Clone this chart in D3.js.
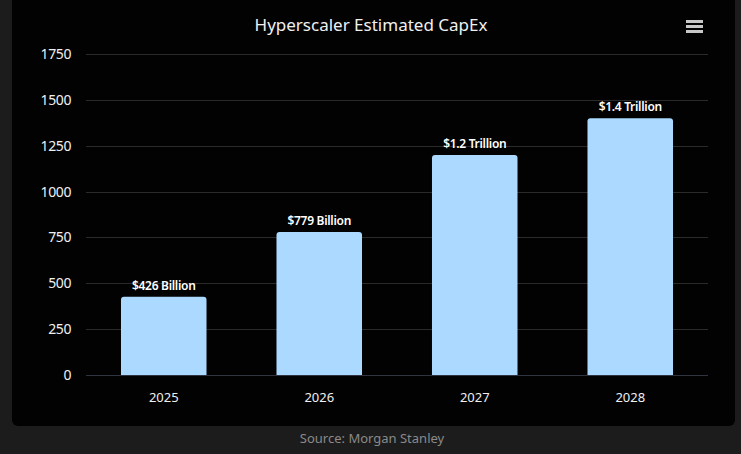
<!DOCTYPE html>
<html>
<head>
<meta charset="utf-8">
<script src="https://cdn.jsdelivr.net/npm/d3@7"></script>
<style>
	html, body { margin: 0; padding: 0; background: #1c1c1c; }
	#outer { width: 741px; height: 454px; }
</style>
</head>
<body>
<div id="outer"></div>
<script>
////////// Data //////////
const years = ['2025', '2026', '2027', '2028'];
const capexValues = [426, 779, 1200, 1400];
const barLabels = ['$426 Billion', '$779 Billion', '$1.2 Trillion', '$1.4 Trillion'];
const yTicks = [0, 250, 500, 750, 1000, 1250, 1500, 1750];
const chartTitle = 'Hyperscaler Estimated CapEx';
const sourceText = 'Source: Morgan Stanley';

function drawChart () {
	const width = 741, height = 454;
	const fontFamily = "'Noto Sans', 'Open Sans', sans-serif";
	const margin = {top: 54, left: 86, right: 33, bottom: 79};

	const svg = d3.select('#outer').append('svg')
		.attr('width', width)
		.attr('height', height)
		.style('display', 'block');

	// panel
	svg.append('rect')
		.attr('x', 12)
		.attr('y', -8)
		.attr('width', 723)
		.attr('height', 434)
		.attr('rx', 6)
		.attr('fill', '#020202');

	const x = d3.scaleBand()
		.domain(years)
		.range([margin.left, width - margin.right])
		.paddingInner(0.45)
		.paddingOuter(0.225);

	const y = d3.scaleLinear()
		.domain([0, 1750])
		.range([height - margin.bottom, margin.top]);

	// grid lines
	svg.append('g')
		.selectAll('line')
		.data(yTicks)
		.join('line')
		.attr('x1', margin.left)
		.attr('x2', width - margin.right)
		.attr('y1', d => Math.round(y(d)) + 0.5)
		.attr('y2', d => Math.round(y(d)) + 0.5)
		.attr('stroke', d => d === 0 ? '#2f3440' : '#2a2a2a')
		.attr('stroke-width', 1);

	// y axis
	const yAxis = svg.append('g')
		.attr('transform', `translate(${margin.left - 15},0)`)
		.call(d3.axisLeft(y).tickValues(yTicks).tickFormat(d3.format('d')).tickSize(0).tickPadding(0));
	yAxis.select('.domain').remove();
	yAxis.selectAll('text')
		.attr('fill', '#f0f0f0')
		.style('font-family', fontFamily)
		.style('font-size', '14px')
		.style('letter-spacing', '-0.4px');

	// x axis
	const xAxis = svg.append('g')
		.attr('transform', `translate(0,${height - margin.bottom})`)
		.call(d3.axisBottom(x).tickSize(0).tickPadding(18));
	xAxis.select('.domain').remove();
	xAxis.selectAll('text')
		.attr('fill', '#f0f0f0')
		.style('font-family', fontFamily)
		.style('font-size', '13px');

	// bars
	const rows = years.map((yr, i) => ({year: yr, value: capexValues[i], label: barLabels[i]}));

	svg.append('g')
		.selectAll('path')
		.data(rows)
		.join('path')
		.attr('fill', '#abd9ff')
		.attr('d', d => {
			const x0 = x(d.year), w = x.bandwidth();
			const y0 = y(d.value), y1 = y(0), r = 3;
			return `M${x0},${y1}V${y0 + r}Q${x0},${y0} ${x0 + r},${y0}H${x0 + w - r}Q${x0 + w},${y0} ${x0 + w},${y0 + r}V${y1}Z`;
		});

	// bar labels
	svg.append('g')
		.selectAll('text')
		.data(rows)
		.join('text')
		.attr('x', d => x(d.year) + x.bandwidth() / 2)
		.attr('y', d => y(d.value) - 7)
		.attr('text-anchor', 'middle')
		.attr('fill', '#ffffff')
		.style('font-family', fontFamily)
		.style('font-size', '12px')
		.style('font-weight', '600')
		.style('letter-spacing', '-0.3px')
		.text(d => d.label);

	// title
	svg.append('text')
		.attr('x', 371)
		.attr('y', 31)
		.attr('text-anchor', 'middle')
		.attr('fill', '#f0f0f0')
		.style('font-family', fontFamily)
		.style('font-size', '17px')
		.text(chartTitle);

	// menu icon
	svg.append('g')
		.selectAll('line')
		.data([0, 1, 2])
		.join('line')
		.attr('x1', 686)
		.attr('x2', 703)
		.attr('y1', d => 21.5 + d * 5)
		.attr('y2', d => 21.5 + d * 5)
		.attr('stroke', '#c8c8c8')
		.attr('stroke-width', 3);

	// source
	svg.append('text')
		.attr('x', 372)
		.attr('y', 443)
		.attr('text-anchor', 'middle')
		.attr('fill', '#8a8a8a')
		.style('font-family', fontFamily)
		.style('font-size', '13px')
		.text(sourceText);
}

drawChart();
</script>
</body>
</html>
